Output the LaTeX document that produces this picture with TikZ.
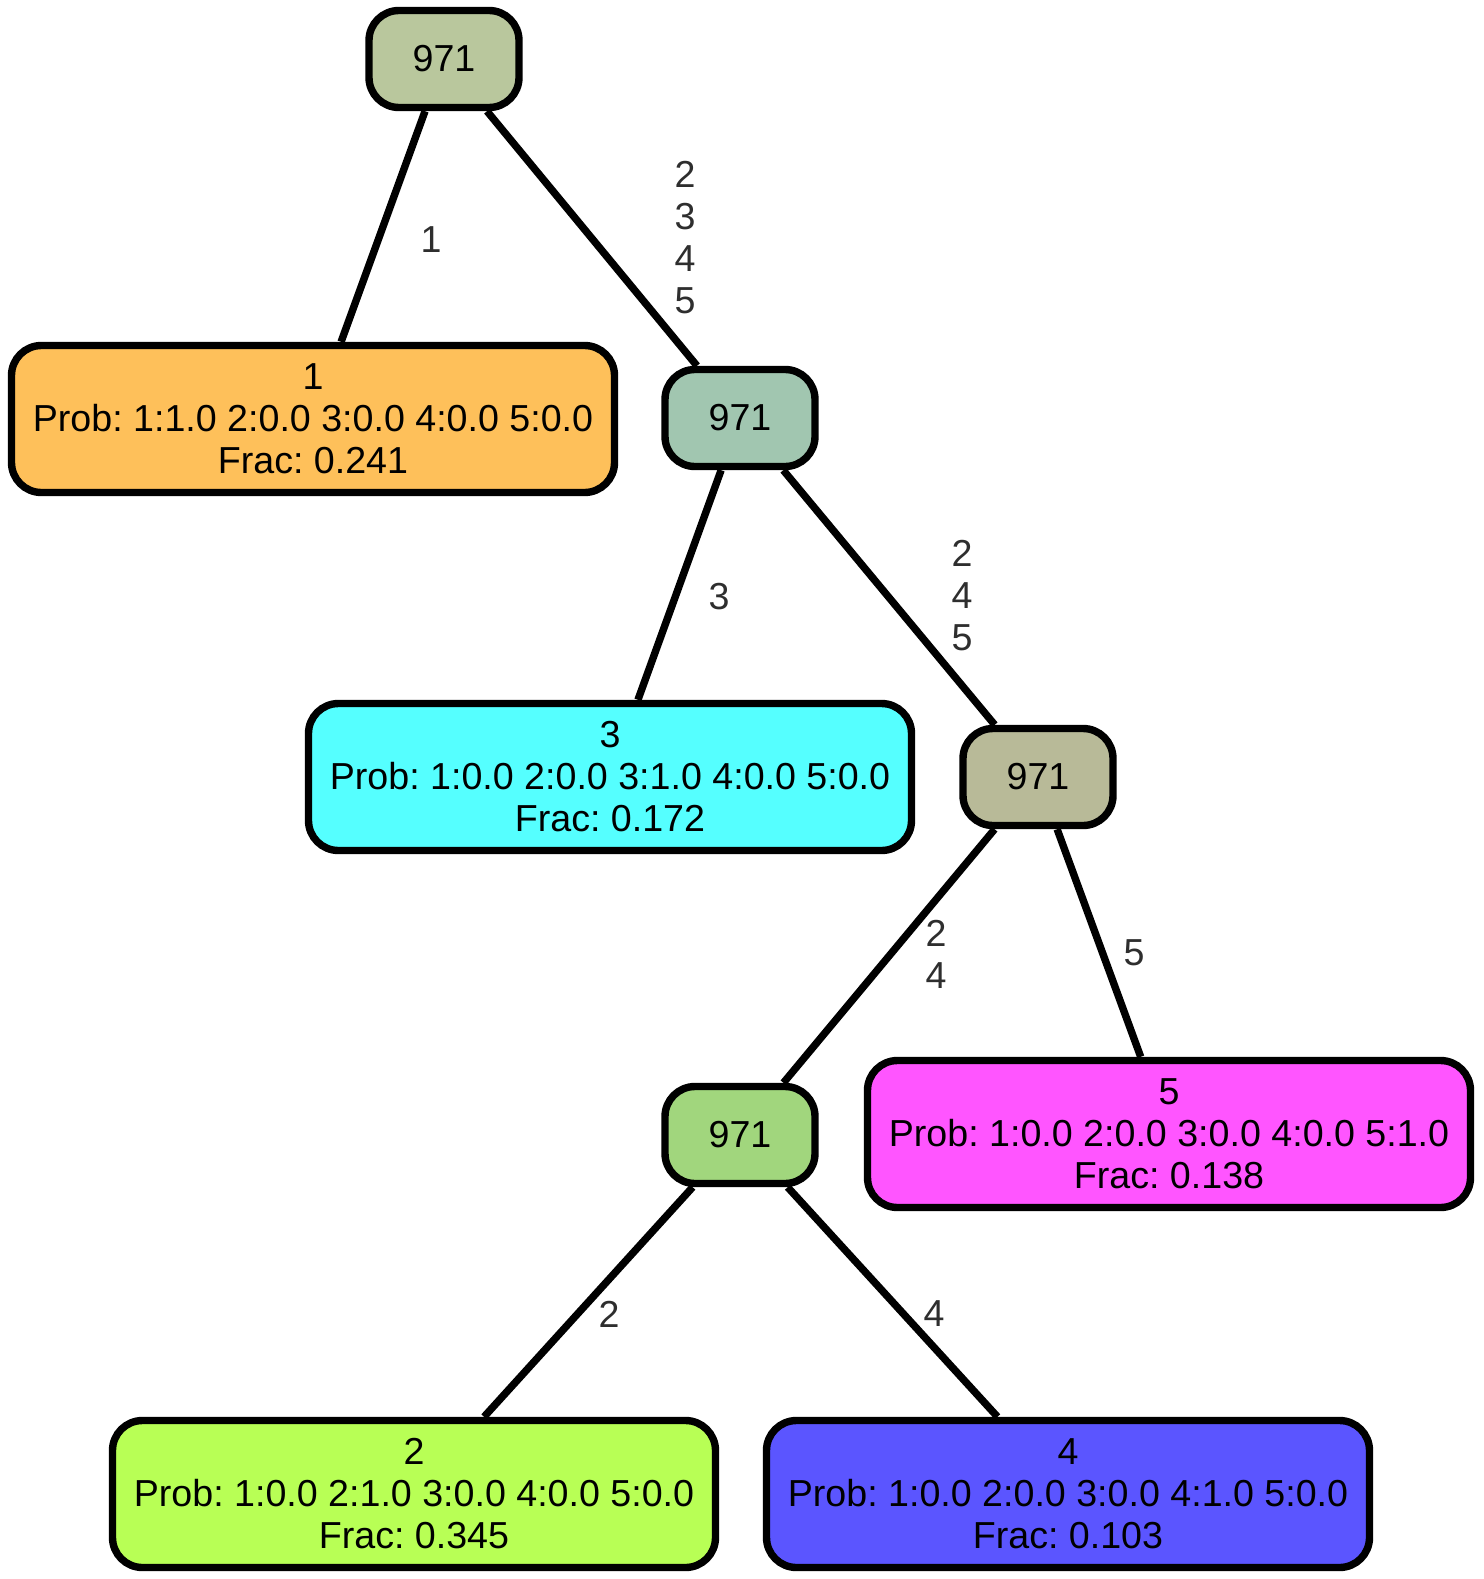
\documentclass[tikz,border=0pt]{standalone}
\usepackage{fontspec}
\setmainfont{Liberation Sans}
\frenchspacing
\definecolor{splitA}{HTML}{B9C79D}
\definecolor{splitB}{HTML}{A1C6B0}
\definecolor{splitC}{HTML}{B8BA98}
\definecolor{splitD}{HTML}{A1D67D}
\definecolor{leafA}{HTML}{FEC05A}
\definecolor{leafB}{HTML}{B8FF55}
\definecolor{leafC}{HTML}{55FFFF}
\definecolor{leafD}{HTML}{5B55FF}
\definecolor{leafE}{HTML}{FF55FF}
\colorlet{lbl}{black!82}

\begin{document}
\begin{tikzpicture}[x=0.5pt, y=-0.5pt,
    every node/.style={font=\fontsize{18.8}{21}\selectfont, align=center},
    split/.style={draw, line width=3.7pt, rounded corners=15pt, inner sep=0pt,
      minimum width=75pt, minimum height=48.5pt},
    leaf/.style={draw, line width=3.7pt, rounded corners=15pt, inner sep=0pt,
      minimum width=301.5pt, minimum height=73.5pt},
    edge/.style={line width=3.7pt},
    elbl/.style={text=lbl}]
    \useasboundingbox (0,0) rectangle (1483,1579);
    %--- Indre noder ---
    \node[split, fill=splitA] (s1) at (444,59){971};
    \node[split, fill=splitB] (s2) at (740,418){971};
    \node[split, fill=splitC] (s3) at (1038,777){971};
    \node[split, fill=splitD] (s4) at (740,1135){971};
    %--- Blader ---
    \node[leaf, fill=leafA] (l1) at (313,419){1\\Prob: 1:1.0 2:0.0 3:0.0 4:0.0 5:0.0\\Frac: 0.241};
    \node[leaf, fill=leafC] (l3) at (610,777){3\\Prob: 1:0.0 2:0.0 3:1.0 4:0.0 5:0.0\\Frac: 0.172};
    \node[leaf, fill=leafE] (l5) at (1169,1134){5\\Prob: 1:0.0 2:0.0 3:0.0 4:0.0 5:1.0\\Frac: 0.138};
    \node[leaf, fill=leafB] (l2) at (414,1494){2\\Prob: 1:0.0 2:1.0 3:0.0 4:0.0 5:0.0\\Frac: 0.345};
    \node[leaf, fill=leafD] (l4) at (1068,1494){4\\Prob: 1:0.0 2:0.0 3:0.0 4:1.0 5:0.0\\Frac: 0.103};
    %--- Kanter ---
    \draw[edge] (s1)--(l1);
    \draw[edge] (s1)--(s2);
    \draw[edge] (s2)--(l3);
    \draw[edge] (s2)--(s3);
    \draw[edge] (s3)--(s4);
    \draw[edge] (s3)--(l5);
    \draw[edge] (s4)--(l2);
    \draw[edge] (s4)--(l4);
    %--- Kantetiketter ---
    \node[elbl] (e1) at (431,240){1};
    \node[elbl] (e2) at (685,238){2\\3\\4\\5};
    \node[elbl] (e3) at (719,597){3};
    \node[elbl] (e4) at (962,596){2\\4\\5};
    \node[elbl] (e5) at (936,954){2\\4};
    \node[elbl] (e6) at (1134,953){5};
    \node[elbl] (e7) at (609,1314){2};
    \node[elbl] (e8) at (934,1314){4};
  \end{tikzpicture}
\end{document}
